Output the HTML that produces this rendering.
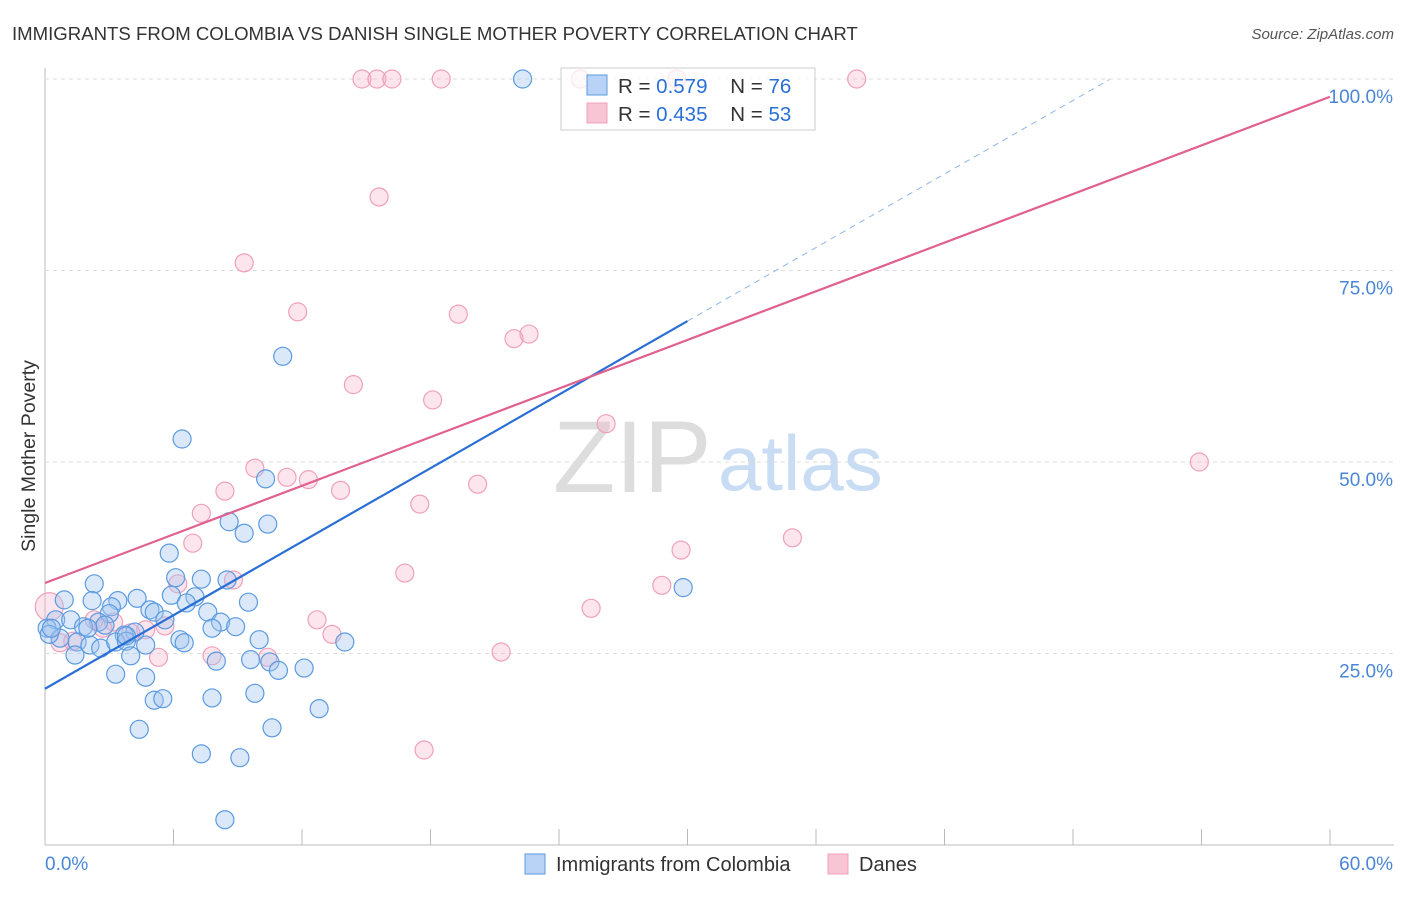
<!DOCTYPE html>
<html><head><meta charset="utf-8"><style>
body{margin:0;background:#fff;font-family:"Liberation Sans",sans-serif}
svg text{font-family:"Liberation Sans",sans-serif}
</style></head><body>
<svg id="c" width="1406" height="892" xmlns="http://www.w3.org/2000/svg">
<text x="12" y="40" font-size="18.6" fill="#333">IMMIGRANTS FROM COLOMBIA VS DANISH SINGLE MOTHER POVERTY CORRELATION CHART</text>
<text x="1394" y="39" font-size="15" fill="#555" font-style="italic" text-anchor="end">Source: ZipAtlas.com</text>
<text x="35" y="456" font-size="19.5" fill="#333" text-anchor="middle" transform="rotate(-90 35 456)">Single Mother Poverty</text>
<g><text x="553" y="492" font-size="102" fill="#ddd" font-family="Liberation Serif">ZIP</text><text x="718" y="490" font-size="78" fill="#c8dcf3">atlas</text></g>
<g id="grid"></g><g id="pts"></g><g id="lines"></g>
<g>
<rect x="561" y="68" width="254" height="62" fill="#fff" fill-opacity="0.75" stroke="#ccc"/>
<rect x="587" y="75" width="20" height="20" fill="#b8d3f5" stroke="#5b9be0"/>
<text x="618" y="93" font-size="20.5" fill="#333">R = <tspan fill="#2a6fd6">0.579</tspan>&#160;&#160;&#160;&#160;N = <tspan fill="#2a6fd6">76</tspan></text>
<rect x="587" y="103" width="20" height="20" fill="#f8c5d5" stroke="#f0a0bc"/>
<text x="618" y="121" font-size="20.5" fill="#333">R = <tspan fill="#2a6fd6">0.435</tspan>&#160;&#160;&#160;&#160;N = <tspan fill="#2a6fd6">53</tspan></text>
</g>
<g>
<rect x="525" y="854" width="20" height="20" fill="#b8d3f5" stroke="#5b9be0"/>
<text x="556" y="871" font-size="20" fill="#333">Immigrants from Colombia</text>
<rect x="828" y="854" width="20" height="20" fill="#f8c5d5" stroke="#f0a0bc"/>
<text x="859" y="871" font-size="20" fill="#333">Danes</text>
</g>
</svg>
<script>
const yTicks=[25,50,75,100];
const yTickLabels=["25.0%","50.0%","75.0%","100.0%"];
const xEndLabels=["0.0%","60.0%"];
const blueX=[22.3,11.1,6.4,10.3,8.6,10.4,9.3,5.8,2.3,6.1,7.3,8.5,29.8,5.9,0.9,2.2,3.4,4.3,7.0,9.5,6.6,3.1,4.9,5.1,7.6,3.0,0.5,1.2,2.5,2.8,5.6,8.2,7.8,8.9,0.1,1.8,4.2,3.7,0.7,1.5,2.1,2.6,3.3,3.8,4.7,6.3,6.5,10.0,14.0,1.4,4.0,8.0,9.6,10.5,10.9,12.1,3.3,4.7,5.1,5.5,7.8,9.8,12.8,4.4,10.6,7.3,9.1,8.4,0.2,0.3,2.0,3.8];
const blueY=[100,63.8,53.0,47.8,42.2,41.9,40.7,38.1,34.1,34.9,34.7,34.6,33.6,32.6,32.0,31.9,31.9,32.2,32.4,31.7,31.6,31.1,30.7,30.4,30.4,30.2,29.4,29.4,29.1,28.7,29.4,29.1,28.3,28.5,28.3,28.5,27.8,27.4,27.0,26.5,26.1,25.7,26.5,26.6,26.1,26.8,26.4,26.8,26.5,24.8,24.7,24.0,24.2,23.9,22.8,23.1,22.3,21.9,18.9,19.1,19.2,19.8,17.8,15.1,15.3,11.9,11.4,3.3,27.5,28.3,28.3,27.3];
const pinkX=[14.8,15.5,16.2,18.5,25.0,29.5,37.9,15.6,9.3,11.8,19.3,22.6,21.9,14.4,18.1,26.2,53.9,9.8,11.3,12.3,20.2,8.4,13.8,17.5,7.3,34.9,29.7,6.9,16.8,28.8,6.2,8.8,25.5,12.7,3.2,2.3,5.6,4.7,2.7,4.0,13.4,0.2,0.7,1.3,7.8,10.4,5.3,21.3,17.7];
const pinkY=[100,100,100,100,100,100,100,84.6,76.0,69.6,69.3,66.7,66.1,60.1,58.1,55.0,50.0,49.2,48.0,47.7,47.1,46.2,46.3,44.5,43.3,40.1,38.5,39.4,35.5,33.9,34.1,34.6,30.9,29.4,29.1,29.4,28.6,28.1,28.3,27.7,27.5,31.1,26.4,26.6,24.7,24.5,24.5,25.2,12.4];
const blueLine=[20.4,1.6,30.0,49.7];
const pinkLine=[34.2,1.058];
const X0=45,X1=1330,Y0=845,Y1=79;
const sx=v=>X0+(v/60)*(X1-X0), sy=v=>Y0-(v/100)*(Y0-Y1);
const NS="http://www.w3.org/2000/svg";
function mk(t,a,p){const e=document.createElementNS(NS,t);for(const k in a)e.setAttribute(k,a[k]);p.appendChild(e);return e;}
const g=document.getElementById('grid');
let ax=mk('line',{x1:X0,y1:68,x2:X0,y2:Y0,stroke:'#bbb'},g);


let bx=mk('line',{x1:X0,y1:Y0,x2:1394,y2:Y0,stroke:'#bbb'},g);


for(let i=1;i<=10;i++){let t=mk('line',{x1:sx(i*6),y1:Y0,x2:sx(i*6),y2:Y0-16,stroke:'#bbb'},g);

}
yTicks.forEach((v,i)=>{let l=mk('line',{x1:X0,y1:sy(v),x2:1394,y2:sy(v),stroke:'#ddd','stroke-dasharray':'4,4'},g);


let t=mk('text',{x:1393,y:sy(v)+24,'font-size':19,fill:'#4a86d6','text-anchor':'end'},g);t.textContent=yTickLabels[i];

});
let t0=mk('text',{x:45,y:870,'font-size':19,fill:'#4a86d6'},g);t0.textContent=xEndLabels[0];


let t1=mk('text',{x:1393,y:870,'font-size':19,fill:'#4a86d6','text-anchor':'end'},g);t1.textContent=xEndLabels[1];


const p=document.getElementById('pts');
pinkX.forEach((x,i)=>{let c=mk('circle',{cx:sx(x),cy:sy(pinkY[i]),r:(i==41?14:9),fill:'rgba(245,175,198,0.33)',stroke:'#f0a0bc','stroke-width':1.2},p);

});
blueX.forEach((x,i)=>{let c=mk('circle',{cx:sx(x),cy:sy(blueY[i]),r:9,fill:'rgba(160,195,240,0.38)',stroke:'#5b9be0','stroke-width':1.2},p);

});
const L=document.getElementById('lines');
let bl=mk('line',{x1:sx(0),y1:sy(blueLine[0]),x2:sx(blueLine[2]),y2:sy(blueLine[0]+blueLine[1]*blueLine[2]),stroke:'#2a6fd6','stroke-width':2.2},L);


let bd=mk('line',{x1:sx(blueLine[2]),y1:sy(blueLine[0]+blueLine[1]*blueLine[2]),x2:sx(blueLine[3]),y2:sy(blueLine[0]+blueLine[1]*blueLine[3]),stroke:'#8fb5e8','stroke-width':1,'stroke-dasharray':'6,5'},L);


let pl=mk('line',{x1:sx(0),y1:sy(pinkLine[0]),x2:sx(60),y2:sy(pinkLine[0]+pinkLine[1]*60),stroke:'#e06090','stroke-width':2.2},L);


</script>
</body></html>
